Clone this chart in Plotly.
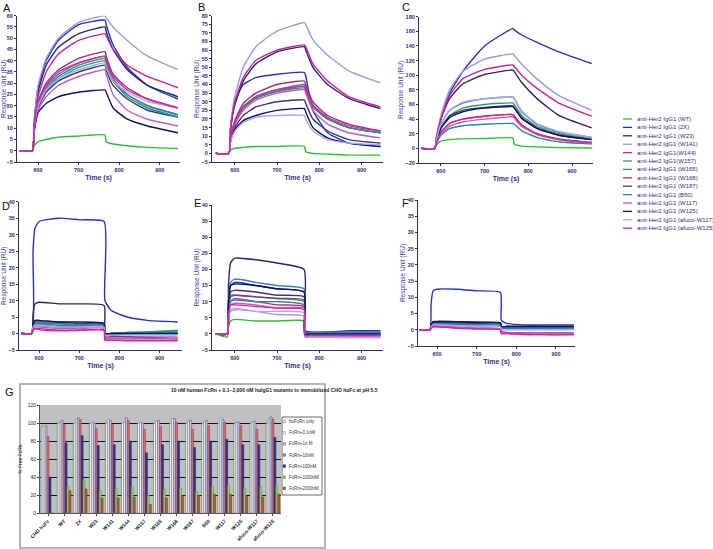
import plotly.graph_objects as go

FONT = "Arial, Liberation Sans, sans-serif"
W, H = 713, 549

names = ["anti-Her2 IgG1 (WT)", "anti-Her2 IgG1 (2X)", "anti-Her2 IgG1 (W23)",
         "anti-Her2 IgG1 (W141)", "anti-Her2 IgG1(W144)", "anti-Her2 IgG1(W157)",
         "anti-Her2 IgG1 (W165)", "anti-Her2 IgG1 (W168)", "anti-Her2 IgG1 (W187)",
         "anti-Her2 IgG1 (B50)", "anti-Her2 IgG1 (W117)", "anti-Her2 IgG1 (W125)",
         "anti-Her2 IgG1 (afuco-W117)", "anti-Her2 IgG1 (afuco-W125)"]
colors = ["#2fbf2f", "#2233cc", "#27276e", "#9a9ae6", "#cc2299", "#3a9a6a",
          "#3a80a8", "#9a2f7a", "#3a3a70", "#1f8f8f", "#c060b0", "#101070",
          "#a8a8f0", "#e020a0"]

# ---- Panel A ----
t_A = [555, 586, 590, 600, 620, 650, 700, 765, 768, 785, 820, 870, 945]
A = [
    [0, 0, 2, 4, 5, 6, 6.5, 7, 4, 3, 2.2, 1.5, 1],
    [0, 0, 12, 28, 40, 49, 56, 58, 56, 47, 37, 29, 23],
    [0, 0, 11, 26, 38, 46, 52, 55, 53, 45, 36, 29, 24],
    [0, 0, 12, 29, 41, 50, 57, 60, 59, 55, 49, 42, 36],
    [0, 0, 10, 24, 35, 43, 49, 52, 51, 45, 38, 33, 28],
    [0, 0, 9, 20, 27, 32, 37, 40, 38, 31, 25, 20, 16],
    [0, 0, 9, 21, 28, 34, 39, 42, 40, 32, 25, 20, 16],
    [0, 0, 10, 22, 30, 36, 41, 44, 42, 34, 28, 23, 19],
    [0, 0, 9, 19, 26, 31, 35, 38, 36, 29, 23, 18, 15],
    [0, 0, 9, 20, 27, 33, 38, 41, 39, 31, 24, 19, 15],
    [0, 0, 8, 18, 24, 29, 33, 36, 34, 25, 18, 14, 11],
    [0, 0, 8, 17, 21, 24, 26, 27, 26, 19, 14, 11, 8],
    [0, 0, 9, 20, 27, 32, 36, 39, 37, 31, 26, 22, 19],
    [0, 0, 10, 22, 29, 35, 39, 42, 40, 33, 27, 23, 19],
]

# ---- Panel B ----
t_B = [555, 586, 590, 600, 620, 650, 700, 765, 768, 785, 820, 870, 945]
B = [
    [0, 0, 2, 3, 3.5, 4, 4, 4, 1, 0, -0.5, -1, -1],
    [0, 0, 15, 30, 40, 44, 46, 47, 45, 25, 12, 6, 4],
    [0, 0, 14, 28, 42, 52, 59, 62, 60, 50, 40, 32, 26],
    [0, 0, 16, 33, 50, 62, 71, 76, 75, 66, 57, 48, 41],
    [0, 0, 14, 30, 44, 54, 60, 63, 62, 52, 42, 33, 27],
    [0, 0, 9, 17, 26, 32, 36, 39, 37, 27, 20, 15, 12],
    [0, 0, 9, 17, 27, 33, 37, 40, 38, 28, 20, 15, 12],
    [0, 0, 10, 19, 29, 35, 40, 42, 40, 30, 22, 17, 13],
    [0, 0, 8, 15, 22, 27, 30, 31, 29, 20, 13, 8, 6],
    [0, 0, 9, 18, 27, 32, 36, 38, 36, 27, 20, 15, 12],
    [0, 0, 9, 17, 25, 31, 35, 37, 35, 25, 17, 12, 9],
    [0, 0, 7, 14, 19, 22, 25, 26, 24, 15, 9, 6, 4],
    [0, 0, 7, 13, 18, 21, 22, 22, 20, 13, 8, 6, 5],
    [0, 0, 10, 18, 27, 33, 37, 39, 37, 28, 21, 16, 13],
]

# ---- Panel C ----
t_C = [555, 586, 590, 600, 620, 650, 700, 765, 768, 785, 820, 870, 945]
C = [
    [0, 0, 5, 10, 12, 13, 13.5, 14, 6, 3, 2, 1, 0.5],
    [0, 0, 15, 40, 75, 105, 140, 164, 162, 155, 145, 132, 116],
    [0, 0, 15, 40, 68, 88, 101, 107, 105, 90, 68, 45, 28],
    [0, 0, 16, 45, 80, 105, 122, 129, 127, 115, 95, 72, 52],
    [0, 0, 15, 40, 72, 95, 108, 114, 112, 100, 82, 62, 44],
    [0, 0, 10, 28, 45, 55, 60, 62, 60, 45, 30, 20, 13],
    [0, 0, 12, 33, 52, 62, 68, 70, 68, 50, 33, 22, 15],
    [0, 0, 8, 22, 34, 40, 44, 46, 44, 32, 20, 13, 8],
    [0, 0, 10, 28, 44, 52, 56, 58, 56, 42, 28, 18, 12],
    [0, 0, 7, 18, 27, 31, 33, 34, 33, 24, 15, 9, 6],
    [0, 0, 8, 20, 30, 36, 40, 43, 41, 30, 19, 12, 7],
    [0, 0, 10, 27, 42, 50, 55, 57, 55, 41, 27, 18, 12],
    [0, 0, 12, 33, 52, 63, 68, 70, 68, 51, 34, 23, 15],
    [0, 0, 8, 22, 34, 40, 44, 46, 44, 32, 20, 12, 8],
]

# ---- Panel D ----
t_D = [555, 582, 585, 590, 600, 650, 700, 762, 764, 780, 820, 870, 945]
D = [
    [0, 0, 2, 3, 3, 3, 2.5, 2.5, 0, 0, 0.3, 0.5, 1],
    [0, 0, 25, 32, 34, 35, 34.5, 34, 10, 7, 5, 4, 3.5],
    [0, 0, 6, 9, 9.5, 9, 9, 8.5, 0, -0.5, 0, 0, 0],
    [0, 0, 2, 2.5, 2.5, 2, 2, 2, -1, -1, -1, -1, -1],
    [0, 0, 1, 1.5, 1.5, 1, 1, 1, -2, -2, -2, -2, -2],
    [0, 0, 2, 3, 3, 3, 2.5, 2.5, 0, 0, 0.3, 0.5, 0.8],
    [0, 0, 2, 3, 3, 3, 2.5, 2.5, 0, 0, 0, 0.3, 0.5],
    [0, 0, 2, 2.5, 2.5, 2, 2, 2, -1, -1, -1, -1.2, -1.5],
    [0, 0, 3, 3.5, 3.5, 3.5, 3, 3, 0, 0, 0, 0, 0],
    [0, 0, 2, 3, 3, 2.5, 2.5, 2.5, 0, 0, 0, 0.3, 0.5],
    [0, 0, 1.5, 2, 2, 1.5, 1.5, 1.5, -1.5, -1.5, -1.5, -1.5, -1.5],
    [0, 0, 3, 4, 4, 3.5, 3.5, 3, 0, 0, 0, 0, 0],
    [0, 0, 2, 2.5, 2.5, 2, 2, 2, -0.5, -0.5, -0.5, -0.5, -0.5],
    [0, 0, 1, 1.5, 1.2, 0.8, 1, 1, -2, -2, -2.2, -2.2, -2.2],
]

# ---- Panel E ----
t_E = [555, 582, 585, 590, 600, 650, 700, 764, 766, 780, 820, 870, 945]
E = [
    [0, -1, 2, 4, 4.5, 4, 4, 4, 0, -0.5, -0.5, -0.5, -0.5],
    [0, 0, 10, 15, 16, 15, 14, 13, 1, 0.5, 0.5, 1, 1],
    [0, 0, 15, 22, 23.5, 23, 22, 20, 1, 0.5, 0.5, 0.5, 0.5],
    [0, 0, 5, 7, 7.5, 7, 6, 5.5, -1, -1, -1, -1, -1],
    [0, 0, 7, 10, 10.5, 10, 9, 8.5, -0.5, -0.5, -0.5, -0.5, -0.5],
    [0, 0, 8, 12, 12, 11.5, 11, 10, 0, 0, 0, 0, 0],
    [0, 0, 11, 16, 17, 16, 15, 14, 0.5, 0.5, 0.5, 0.5, 0.5],
    [0, 0, 8, 11.5, 12, 11.5, 11, 10.5, 0, 0, 0, 0, 0],
    [0, 0, 9, 13, 13.5, 13, 12, 11.5, 0, 0, 0, 0, 0],
    [0, 0, 7, 10, 11, 10, 10, 9, 0, 0, 0, 0, 0],
    [0, 0, 6, 9, 9.5, 9, 8, 8, -0.5, -0.5, -0.5, -0.5, -0.5],
    [0, 0, 10, 15, 15.5, 15, 14, 13, 0, 0, 0, 0, 0],
    [0, 0, 5, 7.5, 8, 7, 7, 6.5, -1, -1, -1, -1.2, -1.2],
    [0, 0, 6, 9, 9, 8.5, 8, 7.5, -0.5, -0.5, -0.5, -0.5, -0.5],
]

# ---- Panel F ----
t_F = [555, 582, 585, 590, 600, 650, 700, 760, 762, 775, 820, 870, 945]
F = [
    [0, 0, 1, 2, 2, 2, 2, 2, 0.5, 0.5, 0.5, 0.5, 0.5],
    [0, 0, 8, 12, 12.5, 12.5, 12, 11.5, 3, 2, 1.5, 1.5, 1.5],
    [0, 0, 1.5, 2.5, 2.5, 2.5, 2.3, 2, 1, 1, 1, 1, 1],
    [0, 0, 1, 1.5, 1.5, 1.3, 1.2, 1, 0.5, 0.5, 0.5, 0.3, 0.3],
    [0, 0, 0.5, 1, 1, 0.5, 0.3, 0, -1, -1, -1.2, -1.5, -1.5],
    [0, 0, 1, 2, 2, 2, 1.8, 1.5, 0.5, 0.5, 0.5, 0.5, 0.5],
    [0, 0, 1, 2, 2, 2, 1.8, 1.5, 0.5, 0.5, 0.5, 0.5, 0.5],
    [0, 0, 0.5, 1, 1, 0.8, 0.5, 0.3, -0.5, -0.8, -1, -1, -1],
    [0, 0, 1.5, 2.3, 2.3, 2.2, 2, 2, 1, 1, 1, 1, 1],
    [0, 0, 1, 1.8, 1.8, 1.7, 1.5, 1.5, 0.5, 0.5, 0.5, 0.5, 0.5],
    [0, 0, 0.5, 1, 1, 0.7, 0.5, 0.3, -0.8, -1, -1, -1.2, -1.2],
    [0, 0, 1.5, 2.5, 2.6, 2.5, 2.3, 2.2, 1, 1, 1, 1, 1],
    [0, 0, 1, 1.5, 1.5, 1.2, 1, 1, 0, 0, 0, 0, 0],
    [0, 0, 0.5, 1, 1, 0.5, 0.3, 0, -1.2, -1.2, -1.5, -1.5, -1.5],
]

# ---- Panel G ----
g_categories = ["CHO huFc", "WT", "2X", "W23", "W141", "W144", "W157", "W165",
                "W168", "W187", "B50", "W117", "W125", "afuco-W117", "afuco-W125"]
g_series = ["huFcRn only", "FcRn+0.1nM", "FcRn+1n M", "FcRn+10nM",
            "FcRn+100nM", "FcRn+1000nM", "FcRn+2000nM"]
g_only = [96, 100, 100, 100, 100, 100, 100, 100, 100, 100, 100, 100, 100, 100, 100]
g_01 = [97, 101, 104, 101, 104, 101, 101, 102, 105, 102, 102, 106, 101, 102, 105]
g_1 = [97, 103, 106, 100, 103, 106, 100, 103, 105, 103, 103, 104, 101, 102, 107]
g_10 = [85, 99, 104, 94, 99, 103, 93, 96, 101, 93, 97, 101, 97, 93, 104]
g_100 = [40, 78, 86, 75, 76, 80, 67, 76, 80, 73, 80, 82, 76, 76, 84]
g_1000 = [0, 30, 37, 25, 28, 29, 20, 27, 28, 24, 30, 31, 28, 29, 32]
g_2000 = [0, 25, 27, 17, 17, 18, 10, 17, 19, 20, 21, 21, 19, 18, 21]
g_fill = ["#ffffff", "#eef8f6", "#d6c6ea", "#d87070", "#1f3f9f", "#9ad060", "#d05030"]
g_edge = ["#4a6a5a", "#5a9a8a", "#7a4a9a", "#a04040", "#15306f", "#6a9a40", "#903020"]


def X(px):
    return px / W


def Y(py):
    return 1 - py / H


AXC = "#2a2a78"
panels = [
    ("A", t_A, A, (17, 180), (15.7, 162), [548, 950], [-5, 60], 5),
    ("B", t_B, B, (212, 383), (15.7, 162), [546, 951], [-5, 80], 5),
    ("C", t_C, C, (419, 593), (16.7, 163), [550, 948], [-20, 180], 20),
    ("D", t_D, D, (19, 182), (201.7, 350), [550, 956], [-5, 40], 5),
    ("E", t_E, E, (212, 383), (205, 350), [546, 951], [-5, 40], 5),
    ("F", t_F, F, (418, 575), (200, 346), [552, 948], [-5, 40], 5),
]

fig = go.Figure()
layout = {}
for i, (lab, t, ser, xp, yp, xr, yr, dt) in enumerate(panels):
    n = i + 1
    xa = "x" if n == 1 else f"x{n}"
    ya = "y" if n == 1 else f"y{n}"
    for k, vals in enumerate(ser):
        fig.add_trace(go.Scatter(
            x=t, y=vals, mode="lines", name=names[k], showlegend=False,
            line=dict(color=colors[k], width=1.4, shape="spline", smoothing=0.5),
            xaxis=xa, yaxis=ya, hoverinfo="skip"))
    xkey = "xaxis" if n == 1 else f"xaxis{n}"
    ykey = "yaxis" if n == 1 else f"yaxis{n}"
    layout[xkey] = dict(
        domain=[X(xp[0]), X(xp[1])], range=xr, anchor=ya, automargin=False,
        tickvals=[600, 700, 800, 900], ticks="outside", ticklen=2, tickcolor=AXC,
        showline=True, linecolor=AXC, linewidth=1.2, showgrid=False, zeroline=False,
        tickfont=dict(family=FONT, size=5.5, color=AXC, weight="bold"),
        title=dict(text="Time (s)", standoff=3,
                   font=dict(family=FONT, size=7, color="#30309a", weight="bold")))
    layout[ykey] = dict(
        domain=[Y(yp[1]), Y(yp[0])], range=yr, anchor=xa, dtick=dt, automargin=False,
        ticks="outside", ticklen=2, tickcolor=AXC,
        showline=True, linecolor=AXC, linewidth=1.2, showgrid=False, zeroline=False,
        tickfont=dict(family=FONT, size=5.5, color=AXC, weight="bold"),
        title=dict(text="Response Unit (RU)", standoff=1,
                   font=dict(family=FONT, size=6.5, color="#3838b0")))

# Panel G bars
g_vals = [g_only, g_01, g_1, g_10, g_100, g_1000, g_2000]
for k, vals in enumerate(g_vals):
    fig.add_trace(go.Bar(
        x=g_categories, y=vals, name=g_series[k], showlegend=False,
        marker=dict(color=g_fill[k], line=dict(color=g_edge[k], width=0.6)),
        xaxis="x7", yaxis="y7", hoverinfo="skip"))
layout["xaxis7"] = dict(
    domain=[X(40), X(281)], anchor="y7", type="category", automargin=False,
    tickangle=-45, tickfont=dict(family=FONT, size=5, color="#222", weight="bold"),
    showline=True, linecolor="#555", linewidth=1, ticks="outside", ticklen=2,
    showgrid=False)
layout["yaxis7"] = dict(
    domain=[Y(513.3), Y(405)], anchor="x7", range=[0, 120], dtick=20, automargin=False,
    tickfont=dict(family=FONT, size=5, color="#222"),
    showline=True, linecolor="#555", linewidth=1, ticks="outside", ticklen=2,
    showgrid=True, gridcolor="#111", gridwidth=1, zeroline=False,
    title=dict(text="% Free FcRn", standoff=4, font=dict(family=FONT, size=5, color="#222")))

shapes = []
annotations = []

# G frame and gray plot background
shapes.append(dict(type="rect", xref="paper", yref="paper",
                   x0=X(20), x1=X(325), y0=Y(548), y1=Y(384),
                   line=dict(color="#9a9a9a", width=1.5), fillcolor="white", layer="below"))
shapes.append(dict(type="rect", xref="x7 domain", yref="y7 domain",
                   x0=0, x1=1, y0=0, y1=1, line=dict(width=0),
                   fillcolor="#c0c0c0", layer="below"))
shapes.append(dict(type="rect", xref="paper", yref="paper",
                   x0=X(282), x1=X(322), y0=Y(495), y1=Y(417),
                   line=dict(color="#444", width=0.8), fillcolor="white"))
annotations.append(dict(
    text="10 nM human FcRn + 0.1~2,000 nM huIgG1 mutants to immobilized CHO huFc at pH 5.5",
    x=X(169), y=Y(395), xref="paper", yref="paper", showarrow=False,
    font=dict(family=FONT, size=5, color="#222", weight="bold")))
for k, s in enumerate(g_series):
    yy = 421.7 + k * 11.1
    shapes.append(dict(type="rect", xref="paper", yref="paper",
                       x0=X(283), x1=X(285.5), y0=Y(yy + 1.3), y1=Y(yy - 1.3),
                       fillcolor=g_fill[k], line=dict(color=g_edge[k], width=0.5)))
    annotations.append(dict(text=s, x=X(286.5), y=Y(yy), xref="paper", yref="paper",
                            xanchor="left", yanchor="middle", showarrow=False,
                            font=dict(family=FONT, size=4.5, color="#333")))

# kinetics legend
for k, nm in enumerate(names):
    yy = 119 + k * 8.4
    shapes.append(dict(type="line", xref="paper", yref="paper",
                       x0=X(623), x1=X(632), y0=Y(yy), y1=Y(yy),
                       line=dict(color=colors[k], width=1.3)))
    annotations.append(dict(text=nm, x=X(635), y=Y(yy), xref="paper", yref="paper",
                            xanchor="left", yanchor="middle", showarrow=False,
                            font=dict(family=FONT, size=6, color="#30307a")))

# panel letters
for lab, lx, ly in [("A", 1, 8), ("B", 196, 7), ("C", 400, 7), ("D", 0, 206),
                    ("E", 192, 203), ("F", 400, 203), ("G", 3, 392)]:
    annotations.append(dict(text=lab, x=X(lx), y=Y(ly), xref="paper", yref="paper",
                            xanchor="left", yanchor="middle", showarrow=False,
                            font=dict(family=FONT, size=11, color="#111")))

fig.update_layout(
    template="none",
    width=W, height=H, margin=dict(l=0, r=0, t=0, b=0, pad=0, autoexpand=False),
    paper_bgcolor="white", plot_bgcolor="white",
    barmode="group", bargap=0.15, bargroupgap=0,
    showlegend=False, shapes=shapes, annotations=annotations,
    font=dict(family=FONT), **layout)

fig.write_html("out.html", config={"displayModeBar": False},
               post_script="document.body.style.margin='0';document.body.style.overflow='hidden';")
